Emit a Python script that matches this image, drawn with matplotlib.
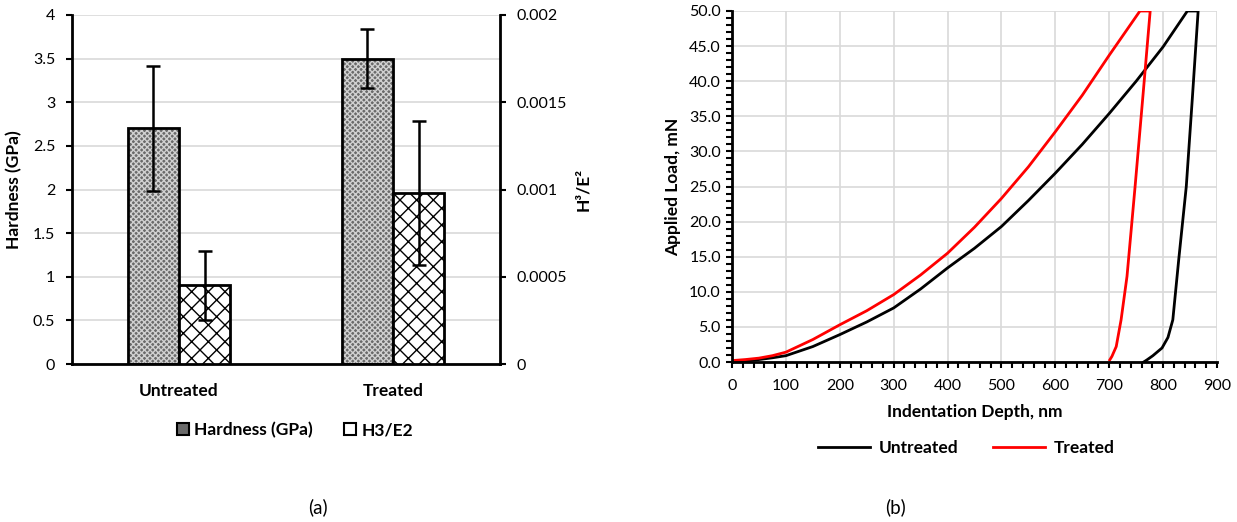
import matplotlib
matplotlib.use('Agg')
import matplotlib.pyplot as plt
import numpy as np
from matplotlib.patches import Patch
from matplotlib.lines import Line2D
from matplotlib.ticker import MultipleLocator, FormatStrFormatter, FuncFormatter

plt.rcParams['font.family'] = ['Lato', 'DejaVu Sans']
plt.rcParams['hatch.linewidth'] = 1.0

# (a) hardness and H3/E2
categories = ['Untreated', 'Treated']
hardness = [2.70, 3.50]
hardness_err = [0.72, 0.34]
h3e2 = [0.00045, 0.00098]
h3e2_err = [0.000195, 0.00041]

# (b) load-depth curves
untreated_load_depth = [0, 25, 50, 75, 100, 150, 200, 250, 300, 350, 400, 450, 500,
                        550, 600, 650, 700, 750, 800, 845, 865]
untreated_load_force = [0, 0.15, 0.35, 0.6, 0.9, 2.2, 3.9, 5.7, 7.7, 10.4, 13.4, 16.2, 19.3,
                        23.0, 26.9, 31.0, 35.4, 40.0, 44.9, 50.0, 50.0]
untreated_unload_depth = [865, 854, 843, 829, 818, 809, 798, 781, 770, 764]
untreated_unload_force = [50.0, 37.3, 25.0, 14.6, 6.0, 3.5, 2.0, 0.9, 0.3, 0]

treated_load_depth = [0, 25, 50, 75, 100, 150, 200, 250, 300, 350, 400, 450, 500,
                      550, 600, 650, 700, 757, 776]
treated_load_force = [0.2, 0.35, 0.55, 0.9, 1.4, 3.2, 5.3, 7.3, 9.6, 12.4, 15.5, 19.2, 23.3,
                      27.8, 32.8, 38.0, 43.7, 50.0, 50.0]
treated_unload_depth = [776, 763, 748, 733, 722, 713, 705, 701]
treated_unload_force = [50.0, 38.3, 25.0, 12.2, 6.0, 2.2, 0.8, 0.3]

W, H = 1237, 522
fig = plt.figure(figsize=(W / 100, H / 100), dpi=100)

def frac(x0, x1, y_top, y_bot):
    return [x0 / W, 1 - y_bot / H, (x1 - x0) / W, (y_bot - y_top) / H]

TICK = 11.5
LAB = 12.5

# ---------- (a) ----------
ax = fig.add_axes(frac(72, 500, 15, 364))
ax2 = ax.twinx()
x = np.arange(len(categories))
bw = 0.24

ax.set_axisbelow(True)
ax.yaxis.grid(True, color='#d9d9d9', linewidth=1.2)
# hardness bars: gray with white check pattern, black outline on top
ax.bar(x - bw / 2, hardness, bw, color='#6a6a6a', edgecolor='#d0d0d0', hatch='xxxxxx',
       linewidth=0, zorder=2)
ax.bar(x - bw / 2, hardness, bw, fill=False, edgecolor='black', linewidth=2, zorder=3)
ax.errorbar(x - bw / 2, hardness, yerr=hardness_err, fmt='none', ecolor='black',
            elinewidth=1.8, capsize=5, capthick=1.8, zorder=4)

ax2.bar(x + bw / 2, h3e2, bw, facecolor='white', edgecolor='black', hatch='xx',
        linewidth=2, zorder=2)
ax2.errorbar(x + bw / 2, h3e2, yerr=h3e2_err, fmt='none', ecolor='black',
             elinewidth=1.8, capsize=5, capthick=1.8, zorder=4)

ax.set_xlim(-0.5, 1.5)
ax.set_ylim(0, 4)
ax2.set_ylim(0, 0.002)
ax.set_yticks(np.arange(0, 4.01, 0.5))
ax2.set_yticks([0, 0.0005, 0.001, 0.0015, 0.002])
ax.yaxis.set_major_formatter(FuncFormatter(lambda v, p: '%g' % v))
ax2.yaxis.set_major_formatter(FuncFormatter(lambda v, p: '%g' % v))
ax.set_xticks(x)
ax.set_xticklabels(categories, fontsize=LAB, fontweight='bold')
ax.tick_params(axis='x', length=0, pad=14)
ax.tick_params(axis='y', direction='out', length=4, width=1.5, labelsize=TICK, pad=8)
ax2.tick_params(axis='y', direction='out', length=4, width=1.5, labelsize=TICK, pad=8)

for s in ['top', 'right']:
    ax.spines[s].set_visible(False)
for s in ['top', 'left', 'bottom']:
    ax2.spines[s].set_visible(False)
ax.spines['left'].set_linewidth(2)
ax.spines['bottom'].set_linewidth(2)
ax2.spines['right'].set_linewidth(2)

ax.set_ylabel('Hardness (GPa)', fontsize=LAB, fontweight='bold', labelpad=8)
ax2.set_ylabel('H³/E²', fontsize=LAB, fontweight='bold', labelpad=6)

leg_a = [Patch(facecolor='#6a6a6a', edgecolor='black', linewidth=1.5),
         Patch(facecolor='white', edgecolor='black', linewidth=1.5)]
fig.legend(leg_a, ['Hardness (GPa)', 'H3/E2'], loc='center', bbox_to_anchor=(295 / W, 1 - 430 / H),
           ncol=2, frameon=False, prop={'size': LAB, 'weight': 'bold'}, handlelength=0.7,
           handleheight=0.7, handletextpad=0.3, columnspacing=1.8)

# ---------- (b) ----------
bx = fig.add_axes(frac(732, 1217, 11, 362))
bx.set_axisbelow(True)
bx.grid(True, color='#d9d9d9', linewidth=1.2)
bx.plot(untreated_load_depth + untreated_unload_depth, untreated_load_force + untreated_unload_force,
        color='black', linewidth=2, label='Untreated')
bx.plot(treated_load_depth + treated_unload_depth, treated_load_force + treated_unload_force,
        color='#ff0000', linewidth=2, label='Treated')
bx.set_xlim(0, 900)
bx.set_ylim(0, 50)
bx.xaxis.set_major_locator(MultipleLocator(100))
bx.xaxis.set_minor_locator(MultipleLocator(20))
bx.yaxis.set_major_locator(MultipleLocator(5))
bx.yaxis.set_minor_locator(MultipleLocator(1))
bx.yaxis.set_major_formatter(FormatStrFormatter('%.1f'))
bx.tick_params(which='both', direction='out', length=4, width=1.5, labelsize=TICK)
bx.tick_params(axis='x', pad=8)
bx.tick_params(axis='y', pad=4)
for s in ['top', 'right']:
    bx.spines[s].set_visible(False)
bx.spines['left'].set_linewidth(2)
bx.spines['bottom'].set_linewidth(2)
bx.set_xlabel('Indentation Depth, nm', fontsize=LAB, fontweight='bold', labelpad=8)
bx.set_ylabel('Applied Load, mN', fontsize=LAB, fontweight='bold', labelpad=6)

leg_b = [Line2D([], [], color='black', linewidth=2), Line2D([], [], color='#ff0000', linewidth=2)]
fig.legend(leg_b, ['Untreated', 'Treated'], loc='center', bbox_to_anchor=(966 / W, 1 - 448 / H),
           ncol=2, frameon=False, prop={'size': LAB, 'weight': 'bold'}, handlelength=3.0,
           handletextpad=0.5, columnspacing=2.0)

fig.text(318 / W, 1 - 507 / H, '(a)', ha='center', va='center', fontsize=13.5)
fig.text(896 / W, 1 - 507 / H, '(b)', ha='center', va='center', fontsize=13.5)

fig.savefig('out.png', dpi=100)
